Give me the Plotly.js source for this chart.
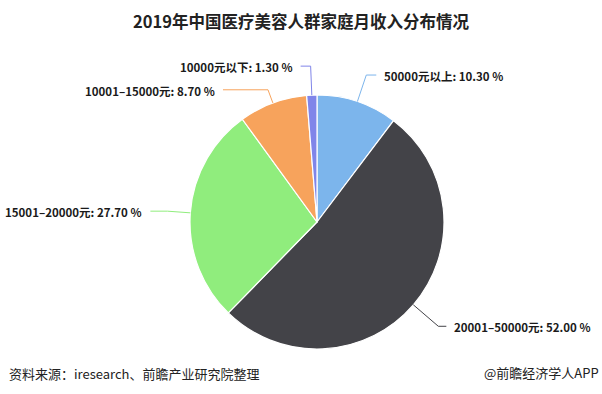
<!DOCTYPE html>
<html>
<head>
<meta charset="utf-8">
<script src="https://cdn.plot.ly/plotly-3.0.1.min.js"></script>
<style>
html,body{margin:0;padding:0;background:#fff;}
#chart{width:602px;height:394px;}
</style>
</head>
<body>
<div id="chart"></div>
<script>
// ---- data ----
const categories = ['50000元以上', '20001–50000元', '15001–20000元', '10001–15000元', '10000元以下'];
const shares = [10.30, 52.00, 27.70, 8.70, 1.30];
const titleText = '2019年中国医疗美容人群家庭月收入分布情况';
const sourceText = '资料来源：iresearch、前瞻产业研究院整理';
const brandText = '@前瞻经济学人APP';

// ---- styles / layout helpers ----
const W = 602, H = 394;
const colors = ['#7cb5ec', '#434348', '#90ed7d', '#f7a35c', '#8085e9'];
const cx = 317, cy = 222, R = 127;           // pie centre & radius in px
// per-label connector styling: elbow radius, horizontal run
const connStyle = [
  {er: 155, h: 10},
  {er: 160, h: 8},
  {er: 150, h: 17},
  {er: 141, h: 45},
  {er: 156, h: 10}
];
const textGap = 6;
const px = x => x / W;
const py = y => 1 - y / H;
const font = '"Noto Sans CJK SC", "Noto Sans", sans-serif';

const total = shares.reduce((a, b) => a + b, 0);
const shapes = [];
const annotations = [];
let cum = 0;
shares.forEach((v, i) => {
  const mid = (cum + v / 2) / total * 2 * Math.PI;
  cum += v;
  const s = Math.sin(mid), c = Math.cos(mid);
  const ex = cx + R * s, ey = cy - R * c;
  const st = connStyle[i];
  const bx = cx + st.er * s, by = cy - st.er * c;
  const side = s >= 0 ? 1 : -1;
  const lx = bx + side * st.h;
  shapes.push({
    type: 'path', xref: 'paper', yref: 'paper',
    path: `M ${px(ex)} ${py(ey)} L ${px(bx)} ${py(by)} L ${px(lx)} ${py(by)}`,
    line: {color: colors[i], width: 1}
  });
  annotations.push({
    xref: 'paper', yref: 'paper', showarrow: false,
    x: px(lx + side * textGap), y: py(by + 1),
    xanchor: side > 0 ? 'left' : 'right', yanchor: 'middle',
    text: '<b>' + categories[i] + ': ' + shares[i].toFixed(2) + ' %</b>',
    font: {family: font, size: 11.5, color: '#1a1a1a'}
  });
});

annotations.push({
  xref: 'paper', yref: 'paper', showarrow: false,
  x: px(7), y: py(373), xanchor: 'left', yanchor: 'middle',
  text: sourceText, font: {family: font, size: 13, color: '#222'}
});
annotations.push({
  xref: 'paper', yref: 'paper', showarrow: false,
  x: px(601), y: py(372), xanchor: 'right', yanchor: 'middle',
  text: brandText, font: {family: font, size: 13, color: '#222'}
});

const trace = {
  type: 'pie',
  labels: categories,
  values: shares,
  sort: false,
  direction: 'clockwise',
  rotation: 0,
  marker: {colors: colors, line: {color: '#ffffff', width: 1.2}},
  textinfo: 'none',
  hoverinfo: 'none',
  domain: {x: [px(cx - R), px(cx + R)], y: [py(cy + R), py(cy - R)]}
};

const layout = {
  width: W, height: H,
  margin: {l: 0, r: 0, t: 0, b: 0},
  paper_bgcolor: '#ffffff',
  showlegend: false,
  title: {
    text: '<b>' + titleText + '</b>',
    x: 0.5, xanchor: 'center',
    y: 1 - 22 / H, yanchor: 'middle',
    font: {family: font, size: 16.5, color: '#222'}
  },
  shapes: shapes,
  annotations: annotations
};

Plotly.newPlot('chart', [trace], layout, {staticPlot: true, displayModeBar: false});
</script>
</body>
</html>
